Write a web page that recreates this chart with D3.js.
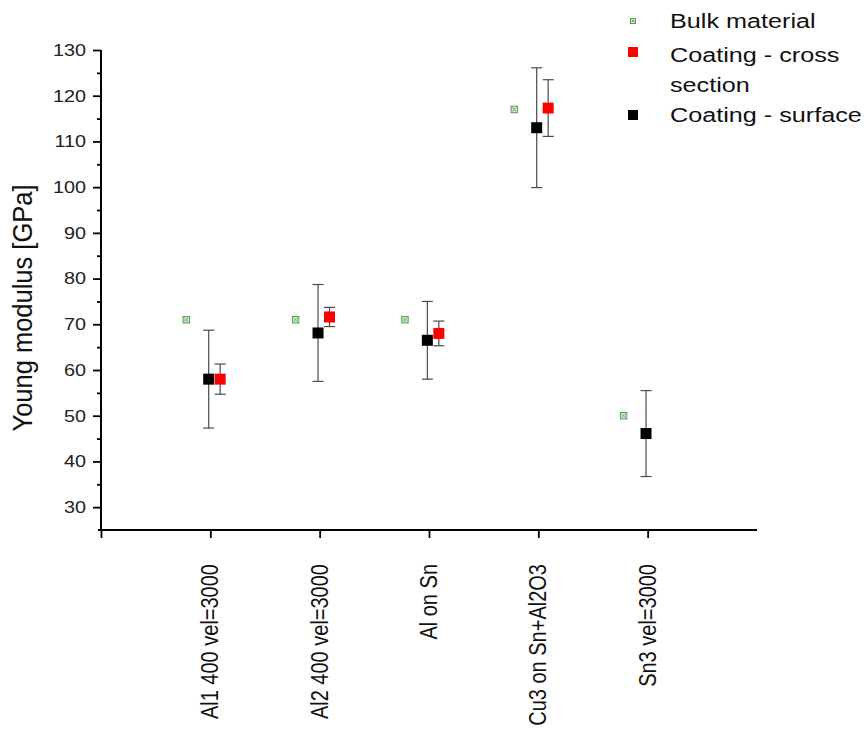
<!DOCTYPE html>
<html>
<head>
<meta charset="utf-8">
<script src="https://cdn.jsdelivr.net/npm/d3@7"></script>
<style>
  html, body { margin: 0; padding: 0; background: #fff; }
  svg { display: block; font-family: "Liberation Sans", Arial, sans-serif; }
</style>
</head>
<body>
<svg id="chart" width="867" height="733"></svg>
<script>
// ---- data ----
const categories = ["Al1 400 vel=3000", "Al2 400 vel=3000", "Al on Sn", "Cu3 on Sn+Al2O3", "Sn3 vel=3000"];
const bulkValues = [71, 71, 71, 117, 50];
const crossValues = [58, 71.6, 68, 117.3, null];
const crossErrors = [3.3, 2.1, 2.7, 6.2, null];
const surfaceValues = [58, 68.1, 66.5, 113, 46.1];
const surfaceErrors = [10.7, 10.6, 8.5, 13.1, 9.4];
const yMajorTicks = [30, 40, 50, 60, 70, 80, 90, 100, 110, 120, 130];
const yMinorTicks = [35, 45, 55, 65, 75, 85, 95, 105, 115, 125];
const legendLabels = [["Bulk material"], ["Coating - cross", "section"], ["Coating - surface"]];
const yTitle = "Young modulus [GPa]";

// ---- layout ----
const svg = d3.select("#chart");
const x = d3.scaleLinear().domain([0, 6]).range([101, 757]);
const y = d3.scaleLinear().domain([25, 130]).range([530, 50]);
const SX = 1.2; // horizontal stretch of the original raster

const off = { bulk: -0.22, surface: -0.015, cross: 0.09 };

// y axis major ticks
const yAxis = svg.append("g").attr("transform", `translate(${x(0)},0)`)
  .call(d3.axisLeft(y).tickValues(yMajorTicks).tickSize(8).tickSizeOuter(0));
yAxis.select(".domain").remove();
yAxis.selectAll(".tick line").attr("stroke", "#000").attr("stroke-width", 1.8);
yAxis.selectAll(".tick text")
  .attr("font-size", 16.5)
  .attr("fill", "#222")
  .attr("x", -15 / SX)
  .attr("transform", `scale(${SX},1)`)
  .attr("font-family", "Liberation Sans, Arial, sans-serif");

// y axis minor ticks
const yMinor = svg.append("g").attr("transform", `translate(${x(0)},0)`)
  .call(d3.axisLeft(y).tickValues(yMinorTicks).tickSize(4).tickFormat(""));
yMinor.select(".domain").remove();
yMinor.selectAll(".tick line").attr("stroke", "#000").attr("stroke-width", 1.8);

// x axis ticks
const xAxis = svg.append("g").attr("transform", `translate(0,${y(25)})`)
  .call(d3.axisBottom(x).tickValues([0, 1, 2, 3, 4, 5]).tickSize(8).tickFormat(""));
xAxis.select(".domain").remove();
xAxis.selectAll(".tick line").attr("stroke", "#000").attr("stroke-width", 1.8);

// axis lines
svg.append("line").attr("x1", x(0)).attr("x2", x(0)).attr("y1", y(130)).attr("y2", y(25) + 1)
  .attr("stroke", "#000").attr("stroke-width", 2);
svg.append("line").attr("x1", x(0) - 3).attr("x2", x(6)).attr("y1", y(25)).attr("y2", y(25))
  .attr("stroke", "#000").attr("stroke-width", 2);

// x category labels (rotated)
svg.append("g").selectAll("text").data(categories).join("text")
  .attr("transform", (d, i) => `translate(${x(i + 1)},564) rotate(-90) scale(1,1.15)`)
  .attr("text-anchor", "end")
  .attr("dy", "0.35em")
  .attr("font-size", 20)
  .attr("fill", "#111")
  .text(d => d);

// y title
svg.append("text")
  .attr("transform", `translate(32,308) rotate(-90) scale(1,1.1)`)
  .attr("text-anchor", "middle")
  .attr("font-size", 25.5)
  .attr("fill", "#111")
  .text(yTitle);

// error bars
function errorBars(values, errors, dx, cls) {
  const data = values.map((v, i) => ({ i, v, e: errors[i] })).filter(d => d.v != null);
  const g = svg.append("g").attr("class", cls).attr("stroke", "#4a4a4a").attr("stroke-width", 1.2);
  data.forEach(d => {
    const cx = x(d.i + 1 + dx);
    const y1 = y(d.v + d.e), y2 = y(d.v - d.e);
    g.append("line").attr("x1", cx).attr("x2", cx).attr("y1", y1).attr("y2", y2);
    g.append("line").attr("x1", cx - 5.5).attr("x2", cx + 5.5).attr("y1", y1).attr("y2", y1);
    g.append("line").attr("x1", cx - 5.5).attr("x2", cx + 5.5).attr("y1", y2).attr("y2", y2);
  });
}
errorBars(surfaceValues, surfaceErrors, off.surface, "err-surface");
errorBars(crossValues, crossErrors, off.cross, "err-cross");

// bulk markers (small crossed green squares)
function bulkMarker(g, cx, cy, s) {
  g.append("rect").attr("x", cx - s / 2).attr("y", cy - s / 2).attr("width", s).attr("height", s)
    .attr("fill", "#cfe8c8").attr("stroke", "#5a9e5a").attr("stroke-width", 1);
  g.append("path").attr("d", `M${cx - s / 2 + 1.2},${cy - s / 2 + 1.2}L${cx + s / 2 - 1.2},${cy + s / 2 - 1.2}M${cx + s / 2 - 1.2},${cy - s / 2 + 1.2}L${cx - s / 2 + 1.2},${cy + s / 2 - 1.2}`)
    .attr("stroke", "#5a9e5a").attr("stroke-width", 0.8).attr("fill", "none");
}
const gb = svg.append("g");
bulkValues.forEach((v, i) => bulkMarker(gb, x(i + 1 + off.bulk), y(v), 6.5));

// surface (black) and cross section (red) squares
const S = 11;
svg.append("g").selectAll("rect").data(surfaceValues.map((v, i) => ({ v, i })).filter(d => d.v != null)).join("rect")
  .attr("x", d => x(d.i + 1 + off.surface) - S / 2)
  .attr("y", d => y(d.v) - S / 2)
  .attr("width", S).attr("height", S).attr("fill", "#000");
svg.append("g").selectAll("rect").data(crossValues.map((v, i) => ({ v, i })).filter(d => d.v != null)).join("rect")
  .attr("x", d => x(d.i + 1 + off.cross) - S / 2)
  .attr("y", d => y(d.v) - S / 2)
  .attr("width", S).attr("height", S).attr("fill", "#ff0000");

// legend
const lg = svg.append("g");
bulkMarker(lg, 633, 21, 5);
lg.append("rect").attr("x", 633 - 5).attr("y", 52 - 5).attr("width", 10).attr("height", 10).attr("fill", "#ff0000");
lg.append("rect").attr("x", 633 - 5).attr("y", 115 - 5).attr("width", 10).attr("height", 10).attr("fill", "#000");
const legendBaselines = [[28], [62, 92], [122]];
legendLabels.forEach((lines, k) => {
  lines.forEach((t, j) => {
    lg.append("text")
      .attr("transform", `translate(670,${legendBaselines[k][j]}) scale(${SX},1)`)
      .attr("font-size", 21)
      .attr("fill", "#111")
      .text(t);
  });
});
</script>
</body>
</html>
